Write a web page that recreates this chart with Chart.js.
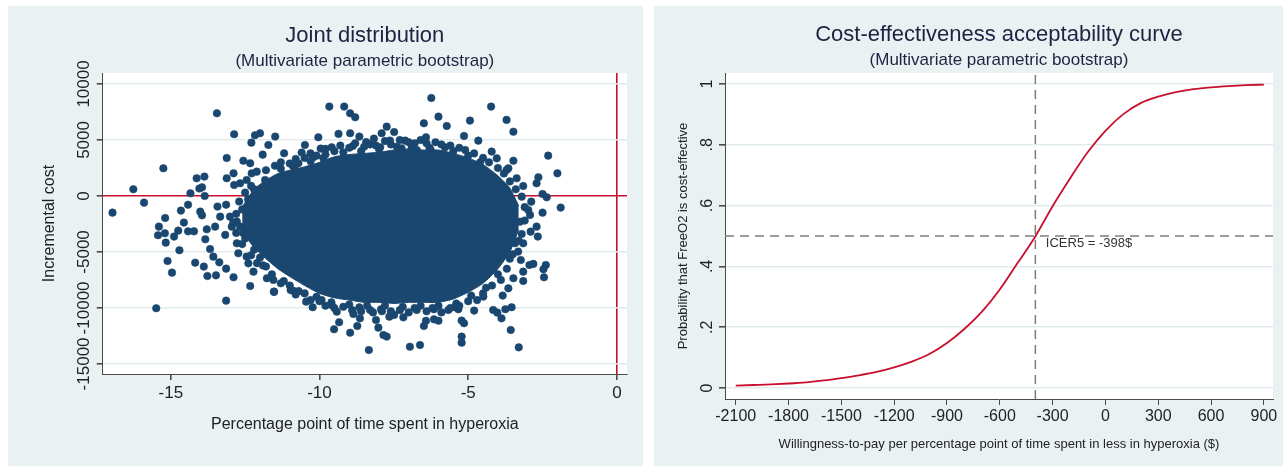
<!DOCTYPE html>
<html>
<head>
<meta charset="utf-8">
<script src="https://cdn.jsdelivr.net/npm/chart.js@4.4.1/dist/chart.umd.min.js"></script>
<style>
  html, body { margin: 0; padding: 0; background: #fff; }
  body { width: 1287px; height: 466px; position: relative; overflow: hidden; }
  .panel { position: absolute; top: 6px; height: 460px; background: #eaf1f3; }
  #panel-left { left: 8px; width: 635px; }
  #panel-right { left: 654px; width: 629px; }
  canvas { display: block; }
</style>
</head>
<body>
<div class="panel" id="panel-left"><canvas id="jointChart" width="635" height="460"></canvas></div>
<div class="panel" id="panel-right"><canvas id="ceacChart" width="629" height="460"></canvas></div>
<script>
// ==========================================
// Data
// ==========================================

// Joint distribution: bootstrap replicates that stand out of the cloud
var scatterX = [
    -16.96, -16.26, -15.90, -15.49, -15.25, -15.19, -15.40, -15.43, -15.20, -15.17,
    -15.11, -14.96, -14.71, -14.89, -14.75, -14.66, -14.56, -14.42, -14.42, -14.22,
    -14.34, -14.18, -14.13, -13.87, -14.04, -13.95, -13.89, -13.77, -13.48, -13.84,
    -14.01, -13.95, -13.86, -13.45, -13.14, -13.14, -13.12, -13.12, -12.87, -12.89,
    -12.56, -12.33, -12.17, -12.00, -12.29, -11.91, -11.72, -11.49, -12.33, -12.89,
    -12.22, -11.53, -11.77, -13.57, -13.37, -13.68, -13.43, -13.14, -12.87, -12.28,
    -12.78, -12.73, -12.56, -13.17, -13.79, -12.45, -12.39, -13.51, -13.34, -13.01,
    -12.78, -12.95, -12.67, -12.11, -11.83, -12.45, -12.67,
    -9.67, -9.17, -8.97, -8.80, -6.24, -6.00, -6.49, -5.72, -6.42, -11.19,
    -11.30, -10.60, -10.49, -10.04, -9.96, -9.59, -9.36, -8.97, -8.66, -8.43,
    -8.17, -7.74, -7.91, -7.49, -7.63, -7.12, -6.73, -6.26, -5.78, -10.84,
    -10.71, -10.21, -9.87, -8.88, -7.96, -7.24,
    -11.53, -10.97, -10.45, -10.23, -9.51, -9.34, -8.97, -9.42, -8.86, -8.73,
    -8.64, -8.34, -8.10, -8.02, -7.85, -7.74, -8.30, -7.93, -7.65, -7.49,
    -7.18, -6.96, -6.62, -6.49, -6.42, -6.15, -6.00, -6.73, -6.15, -5.67,
    -11.55, -11.21, -10.88, -9.93, -9.59, -8.66,
    -4.23, -3.71, -3.48, -4.94, -4.66, -5.14, -2.31, -2.00, -2.64, -2.70,
    -3.48, -3.65, -3.15, -2.88, -2.50, -2.36, -1.89, -2.50, -2.92, -2.70,
    -2.66, -2.90, -3.15, -3.23, -2.94, -2.81, -2.39, -2.47, -2.45, -3.15,
    -3.15, -3.48, -3.65, -3.84, -3.54, -3.75, -3.88, -4.16, -4.02, -3.57,
    -3.30, -4.49, -4.80, -5.22, -5.14, -5.22, -5.22, -5.44, -5.33, -3.20,
    -2.98, -3.26, -3.43, -3.32, -4.21, -4.04, -3.71, -3.37,
    -10.9, -10.3, -9.8, -9.2, -8.6, -8.0, -7.4, -6.9, -6.3, -5.5,
    -5.0, -4.6,
    -11.2, -10.7, -10.1, -9.6, -9.0, -8.4, -7.8, -7.2, -6.6, -6.0,
    -5.4, -4.9, -4.4, -4.0, -3.6, -3.3,
    -12.6, -12.4, -12.2, -12.5, -12.2, -11.9,
    // dense ring along the upper edge of the cloud
    -11.8, -11.5, -11.3, -11.0, -10.8, -10.5, -10.3, -10.1, -9.8, -9.5,
    -9.3, -9.0, -8.8, -8.5, -8.3, -8.1, -7.8, -7.6, -7.3, -7.0,
    -6.8, -6.6, -6.4, -6.1, -5.9, -5.6, -5.3, -5.1, -4.8, -4.5,
    -4.3, -4.0, -3.8, -3.6, -3.4,
    // dense ring along the lower edge
    -12.0, -11.8, -11.6, -11.3, -11.0, -10.8, -10.5, -10.3, -10.0, -9.8,
    -9.5, -9.2, -8.9, -8.6, -8.2, -7.9, -7.6, -7.3, -7.0, -6.8,
    -6.4, -6.2, -5.9, -5.6, -5.3, -5.0, -4.7, -4.5, -4.2, -3.9,
    -3.7, -3.5, -3.2, -3.1, -3.1,
    // left end
    -12.8, -12.7, -12.5, -12.3, -12.8, -12.6, -12.3, -12.1, -12.9
];
var scatterY = [
    -1490, 600, -600, -10030, 2470, -1970, -2740, -3510, -3330, -4170,
    -5810, -6850, -4850, -3630, -3100, -1310, -2380, -780, -3160, -3160,
    240, -5960, 1580, 1730, 660, 770, -6310, -7150, -7090, -3870,
    -1400, -1730, 0, 7380, -9350, -6490, 3390, 1580, 5510, 2020,
    3150, 2920, 5420, 5600, 4760, 3690, 4550, 5300, -8040, -7260,
    -6760, -8570, -7350, -5420, -5930, -4740, -950, -780, 980, 2020,
    -4230, -5120, -3330, -3480, -2980, -5420, -6020, -2740, -1850, -1850,
    -2290, -2740, -2740, 2170, 1430, 1430, 1130,
    7980, 7980, 7380, 7030, 8750, 7080, 6490, 6250, 5240, 3810,
    2440, 3870, 4550, 5240, 4230, 4350, 5540, 5600, 5300, 4820,
    5120, 6190, 5600, 5710, 4940, 4940, 4110, 4110, 4340, 2560,
    2920, 3450, 3360, 4460, 4340, 4260,
    -8540, -8400, -9440, -9940, -11910, -11280, -12210, -10330, -10540, -11610,
    -10930, -13760, -11080, -11760, -12420, -12560, -10180, -10120, -10780, -10630,
    -10840, -13460, -13310, -11610, -11140, -11020, -11140, -10180, -10120, -10180,
    -7500, -6010, -8460, -9290, -9740, -9950,
    7980, 6790, 5740, 6730, 4940, 5360, 3600, 2020, 1670, 1130,
    3150, 2470, 890, -510, 180, -120, -1040, -1490, -1700, -2740,
    -3630, -3190, -4230, -5720, -6160, -6070, -6160, -6550, -7260, -6760,
    -7590, -7350, -8250, -8900, -9940, -10120, -10930, -10180, -10420, -11970,
    -13520, -8990, -10240, -11130, -11370, -12560, -13100, -9940, -10120, -60,
    -1250, -2300, -4230, -4970, 3960, 3360, 2320, 1580,
    2700, 3100, 3700, 3900, 4000, 4200, 4400, 4300, 4300, 4000,
    3600, 3000,
    -7600, -8500, -9000, -9500, -9700, -9800, -9800, -9900, -9800, -9800,
    -9600, -8900, -8200, -7000, -5600, -4000,
    -1200, -300, 600, -3800, -4800, -6200,
    2300, 2700, 3000, 2900, 3300, 3400, 3800, 3600, 4200, 4000,
    4500, 4300, 4700, 4400, 4600, 4500, 4900, 4600, 5000, 4800,
    4700, 5000, 4700, 4800, 4600, 4500, 4300, 4100, 3800, 3400,
    3000, 2500, 2000, 1300, 600,
    -5500, -6300, -7000, -7800, -8000, -8800, -8700, -9300, -9400, -9800,
    -10000, -9900, -10200, -10300, -10400, -10300, -10300, -10200, -10400, -10000,
    -10300, -10000, -10400, -10000, -9800, -9400, -9300, -8700, -8000, -7500,
    -6500, -5200, -3400, -2200, -1000,
    -1600, -500, 300, 900, -3300, -4300, -5300, -6000, -2400
];

// Solid core of the cloud (upper and lower outline)
var cloudX      = [-12.6, -12.2, -11.8, -11.4, -11.0, -10.5, -10.0, -9.5, -9.0, -8.5,
                   -8.0, -7.5, -7.0, -6.5, -6.0, -5.5, -5.0, -4.5, -4.0, -3.6, -3.3];
var cloudTop    = [-1000, 600, 1400, 2000, 2300, 2600, 3000, 3500, 3700, 3800,
                   3900, 4100, 4200, 4100, 4100, 3800, 3400, 2800, 1800, 700, -900];
var cloudBottom = [-3200, -4600, -5600, -6500, -7200, -8000, -8700, -9100, -9300, -9500,
                   -9500, -9600, -9500, -9500, -9500, -9200, -8600, -7800, -6500, -5000, -3000];

var jointXTicks = [-15, -10, -5, 0];
var jointYTicks = [10000, 5000, 0, -5000, -10000, -15000];
var jointXRange = [-17.29, 0.34];
var jointYRange = [-15900, 10980];

// Cost-effectiveness acceptability curve
var wtp = [-2100, -2000, -1900, -1800, -1700, -1600, -1500, -1400, -1300, -1200,
           -1100, -1000, -900, -800, -700, -600, -500, -400, -300, -200,
           -100, 0, 100, 200, 300, 400, 500, 600, 700, 800, 900];
var probCE = [0.008, 0.010, 0.012, 0.015, 0.019, 0.025, 0.033, 0.042, 0.053, 0.068,
              0.087, 0.112, 0.148, 0.195, 0.252, 0.324, 0.410, 0.497, 0.598, 0.690,
              0.776, 0.846, 0.900, 0.937, 0.958, 0.973, 0.983, 0.989, 0.993, 0.996, 0.998];
var ceacXTicks = [-2100, -1800, -1500, -1200, -900, -600, -300, 0, 300, 600, 900];
var ceacYTicks = [0, 0.2, 0.4, 0.6, 0.8, 1];
var ceacYTickLabels = ['0', '.2', '.4', '.6', '.8', '1'];
var ceacXRange = [-2161, 952];
var ceacYRange = [-0.036, 1.036];
var icer = -398;
var icerProb = 0.5;

// ==========================================
// Styling helpers
// ==========================================
var FONT = '"Liberation Sans", Arial, Helvetica, sans-serif';
var NAVY = '#1a476f';
var RED = '#c8102e';
var GRID = '#e1ebee';
var AXIS = '#4a4a4a';
var TEXT = '#222222';
var TITLE = '#1d2340';

Chart.defaults.font.family = FONT;
Chart.defaults.color = TEXT;

function textWidth(text, size) {
    var ctx = document.createElement('canvas').getContext('2d');
    ctx.font = size + 'px ' + FONT;
    return ctx.measureText(text).width;
}

function widest(labels, size) {
    return Math.max.apply(null, labels.map(function (t) { return textWidth(t, size); }));
}

function fixedTicks(values) {
    return function (scale) {
        scale.ticks = values.map(function (v) { return { value: v }; });
    };
}

// white plot region like Stata's plotregion
var plotBackground = {
    id: 'plotBackground',
    beforeDraw: function (chart) {
        var a = chart.chartArea;
        var ctx = chart.ctx;
        ctx.save();
        ctx.fillStyle = '#ffffff';
        ctx.fillRect(a.left, a.top, a.right - a.left, a.bottom - a.top);
        ctx.restore();
    }
};

// Stata centres titles over the plot region, not the whole graph
var centerTitles = {
    id: 'centerTitles',
    afterLayout: function (chart) {
        chart.boxes.forEach(function (b) {
            if (b.position === 'top' && !b.axis) {
                b.left = chart.chartArea.left;
                b.right = chart.chartArea.right;
            }
        });
    }
};

var icerLabel = {
    id: 'icerLabel',
    afterDatasetsDraw: function (chart) {
        var x = chart.scales.x.getPixelForValue(icer);
        var y = chart.scales.y.getPixelForValue(icerProb);
        var ctx = chart.ctx;
        ctx.save();
        ctx.font = '13px ' + FONT;
        ctx.fillStyle = '#333333';
        ctx.textAlign = 'left';
        ctx.textBaseline = 'middle';
        ctx.fillText('ICER5 = ' + icer + '$', x + 10.5, y + 7);
        ctx.restore();
    }
};

function titleBlock(text, size, top, bottom) {
    return { display: true, text: text, color: TITLE, font: { size: size, weight: 'normal' }, padding: { top: top, bottom: bottom } };
}

// ==========================================
// Joint distribution
// ==========================================
(function drawJoint() {
    var points = scatterX.map(function (x, i) { return { x: x, y: scatterY[i] }; });
    var top = cloudX.map(function (x, i) { return { x: x, y: cloudTop[i] }; });
    var bottom = cloudX.map(function (x, i) { return { x: x, y: cloudBottom[i] }; });
    var yLabels = jointYTicks.map(String);
    var yPad = 18.7 - 6 - widest(yLabels, 17) / 2;

    new Chart(document.getElementById('jointChart').getContext('2d'), {
        type: 'scatter',
        data: {
            datasets: [
                {
                    data: points,
                    pointRadius: 3.8,
                    pointBackgroundColor: NAVY,
                    pointBorderColor: NAVY,
                    pointBorderWidth: 0.5,
                    showLine: false
                },
                {
                    type: 'line',
                    data: top,
                    fill: '+1',
                    backgroundColor: NAVY,
                    borderColor: NAVY,
                    borderWidth: 1,
                    pointRadius: 0,
                    tension: 0.2
                },
                {
                    type: 'line',
                    data: bottom,
                    fill: false,
                    backgroundColor: NAVY,
                    borderColor: NAVY,
                    borderWidth: 1,
                    pointRadius: 0,
                    tension: 0.2
                }
            ]
        },
        options: {
            responsive: false,
            animation: false,
            events: [],
            layout: { padding: { left: 0, right: 16, top: 0, bottom: 0 } },
            plugins: {
                legend: { display: false },
                tooltip: { enabled: false },
                title: titleBlock('Joint distribution', 22, 16.8, 0.8),
                subtitle: titleBlock('(Multivariate parametric bootstrap)', 17, 0.8, 1.8)
            },
            scales: {
                x: {
                    type: 'linear',
                    min: jointXRange[0],
                    max: jointXRange[1],
                    afterBuildTicks: fixedTicks(jointXTicks),
                    afterFit: function (s) { s.height = 92; },
                    ticks: { autoSkip: false, maxRotation: 0, padding: 2.8, font: { size: 17 }, color: TEXT,
                        callback: function (v) { return String(v); } },
                    grid: {
                        color: function (c) { return c.tick && c.tick.value === 0 ? RED : 'rgba(0,0,0,0)'; },
                        lineWidth: 1.6,
                        tickColor: AXIS,
                        tickLength: 6
                    },
                    border: { color: AXIS, width: 1 },
                    title: { display: true, text: 'Percentage point of time spent in hyperoxia', font: { size: 16 }, color: TEXT,
                        padding: { top: 0, bottom: 31.4 } }
                },
                y: {
                    type: 'linear',
                    min: jointYRange[0],
                    max: jointYRange[1],
                    afterBuildTicks: fixedTicks(jointYTicks),
                    afterFit: function (s) { s.width = 94.7; },
                    ticks: { autoSkip: false, minRotation: 90, maxRotation: 90, crossAlign: 'center', padding: yPad,
                        font: { size: 17 }, color: TEXT, callback: function (v) { return String(v); } },
                    grid: {
                        color: function (c) { return c.tick && c.tick.value === 0 ? RED : GRID; },
                        lineWidth: 1.6,
                        tickColor: AXIS,
                        tickLength: 6
                    },
                    border: { color: AXIS, width: 1 },
                    title: { display: true, text: 'Incremental cost', font: { size: 16 }, color: TEXT,
                        padding: { top: 32.4, bottom: 0 } }
                }
            }
        },
        plugins: [plotBackground, centerTitles]
    });
})();

// ==========================================
// Cost-effectiveness acceptability curve
// ==========================================
(function drawCeac() {
    var curve = wtp.map(function (x, i) { return { x: x, y: probCE[i] }; });
    var yPad = 17 - 6 - widest(ceacYTickLabels, 16) / 2;

    new Chart(document.getElementById('ceacChart').getContext('2d'), {
        type: 'scatter',
        data: {
            datasets: [
                {
                    data: curve,
                    showLine: true,
                    borderColor: RED,
                    borderWidth: 1.8,
                    pointRadius: 0,
                    cubicInterpolationMode: 'monotone'
                },
                {
                    data: [{ x: icer, y: ceacYRange[0] }, { x: icer, y: ceacYRange[1] }],
                    showLine: true,
                    borderColor: '#7d7d7d',
                    borderWidth: 1.5,
                    borderDash: [9, 6],
                    pointRadius: 0
                },
                {
                    data: [{ x: ceacXRange[0], y: icerProb }, { x: ceacXRange[1], y: icerProb }],
                    showLine: true,
                    borderColor: '#7d7d7d',
                    borderWidth: 1.5,
                    borderDash: [9, 6],
                    pointRadius: 0
                }
            ]
        },
        options: {
            responsive: false,
            animation: false,
            events: [],
            layout: { padding: { left: 0, right: 10, top: 0, bottom: 0 } },
            plugins: {
                legend: { display: false },
                tooltip: { enabled: false },
                title: titleBlock('Cost-effectiveness acceptability curve', 22, 15.8, 0.8),
                subtitle: titleBlock('(Multivariate parametric bootstrap)', 17, 0.8, 2.8)
            },
            scales: {
                x: {
                    type: 'linear',
                    min: ceacXRange[0],
                    max: ceacXRange[1],
                    afterBuildTicks: fixedTicks(ceacXTicks),
                    afterFit: function (s) { s.height = 67; },
                    ticks: { autoSkip: false, maxRotation: 0, padding: 2.4, font: { size: 16 }, color: TEXT,
                        callback: function (v) { return String(v); } },
                    grid: { drawOnChartArea: false, tickColor: AXIS, tickLength: 6 },
                    border: { color: AXIS, width: 1 },
                    title: { display: true, text: 'Willingness-to-pay per percentage point of time spent in less in hyperoxia ($)',
                        font: { size: 13 }, color: TEXT, padding: { top: 0, bottom: 14.2 } }
                },
                y: {
                    type: 'linear',
                    min: ceacYRange[0],
                    max: ceacYRange[1],
                    afterBuildTicks: fixedTicks(ceacYTicks),
                    afterFit: function (s) { s.width = 71; },
                    ticks: { autoSkip: false, minRotation: 90, maxRotation: 90, crossAlign: 'center', padding: yPad,
                        font: { size: 16 }, color: TEXT,
                        callback: function (v, i) { return ceacYTickLabels[i]; } },
                    grid: { color: GRID, lineWidth: 1.6, tickColor: AXIS, tickLength: 6 },
                    border: { color: AXIS, width: 1 },
                    title: { display: true, text: 'Probability that FreeO2 is cost-effective', font: { size: 13 }, color: TEXT,
                        padding: { top: 21.2, bottom: 0 } }
                }
            }
        },
        plugins: [plotBackground, centerTitles, icerLabel]
    });
})();
</script>
</body>
</html>
